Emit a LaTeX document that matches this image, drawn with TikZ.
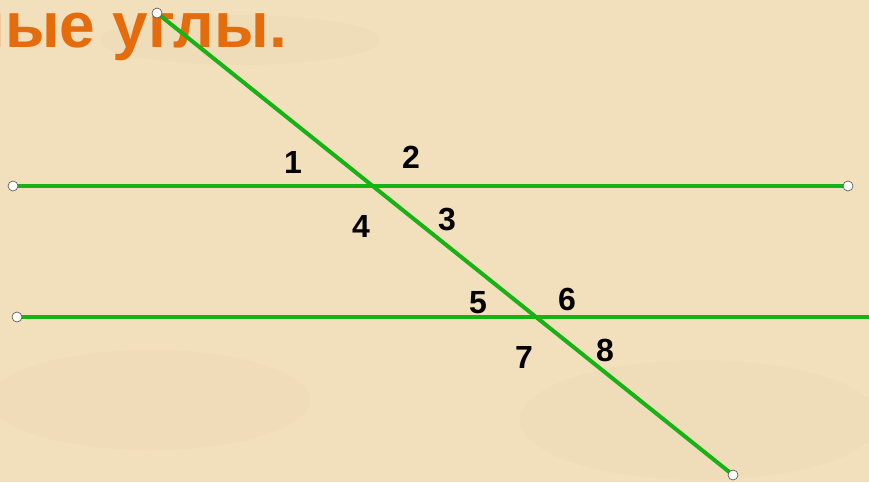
\documentclass[tikz,border=0pt]{standalone}
\usepackage{fontspec}
\setmainfont{Liberation Sans}
\usetikzlibrary{arrows.meta}
\definecolor{parch}{RGB}{242,223,188}
\definecolor{parchdark}{RGB}{230,209,170}
\definecolor{titleorange}{RGB}{228,108,12}
\definecolor{linegreen}{RGB}{22,178,22}
\tikzset{
  gline/.style={draw=linegreen, line width=4pt},
  endpt/.style={circle, draw=black!70, fill=white, line width=0.6pt, inner sep=0pt, minimum size=10pt},
  anglab/.style={inner sep=0pt, font=\fontsize{32}{36}\selectfont\bfseries},
}
\begin{document}
\begin{tikzpicture}[x=1pt, y=-1pt, line cap=round, line join=round]

  %% ════ фон ════
  \fill[parch] (0,0) rectangle (869,482);
  \fill[parchdark, opacity=0.2] (240,40) ellipse (140 and 25);
  \fill[parchdark, opacity=0.2] (700,420) ellipse (180 and 60);
  \fill[parchdark, opacity=0.15] (150,400) ellipse (160 and 50);
  \begin{scope}
    \clip (0,0) rectangle (869,482);
    %% ════ заголовок (обрезан слева) ════
    \node[anchor=base east, inner sep=0pt, text=titleorange, font=\fontsize{64}{70}\selectfont\bfseries] (title) at (287,47) {ные углы.};
  \end{scope}

  %% ════ концы прямых ════
  \coordinate (a1) at (13,186);
  \coordinate (a2) at (848,186);
  \coordinate (b1) at (17,317);
  \coordinate (b2) at (869,317);
  \coordinate (c1) at (157,13);
  \coordinate (c2) at (733,475);

  %% ════ прямые ════
  \draw[gline] (a1) -- (a2);
  \draw[gline, line cap=butt] (b1) -- (b2);
  \draw[gline] (c1) -- (c2);

  %% ════ точки ════
  \node[endpt] (pa1) at (a1) {};
  \node[endpt] (pa2) at (a2) {};
  \node[endpt] (pb1) at (b1) {};
  \node[endpt] (pc1) at (c1) {};
  \node[endpt] (pc2) at (c2) {};

  %% ════ углы ════
  \node[anglab] (g1) at (293,162) {1};
  \node[anglab] (g2) at (411,157) {2};
  \node[anglab] (g3) at (447,220) {3};
  \node[anglab] (g4) at (361,226) {4};
  \node[anglab] (g5) at (478,303) {5};
  \node[anglab] (g6) at (567,299) {6};
  \node[anglab] (g7) at (524,357) {7};
  \node[anglab] (g8) at (605,350) {8};

  \pgfresetboundingbox
  \path[use as bounding box] (0,0) rectangle (869,482);
\end{tikzpicture}
\end{document}
